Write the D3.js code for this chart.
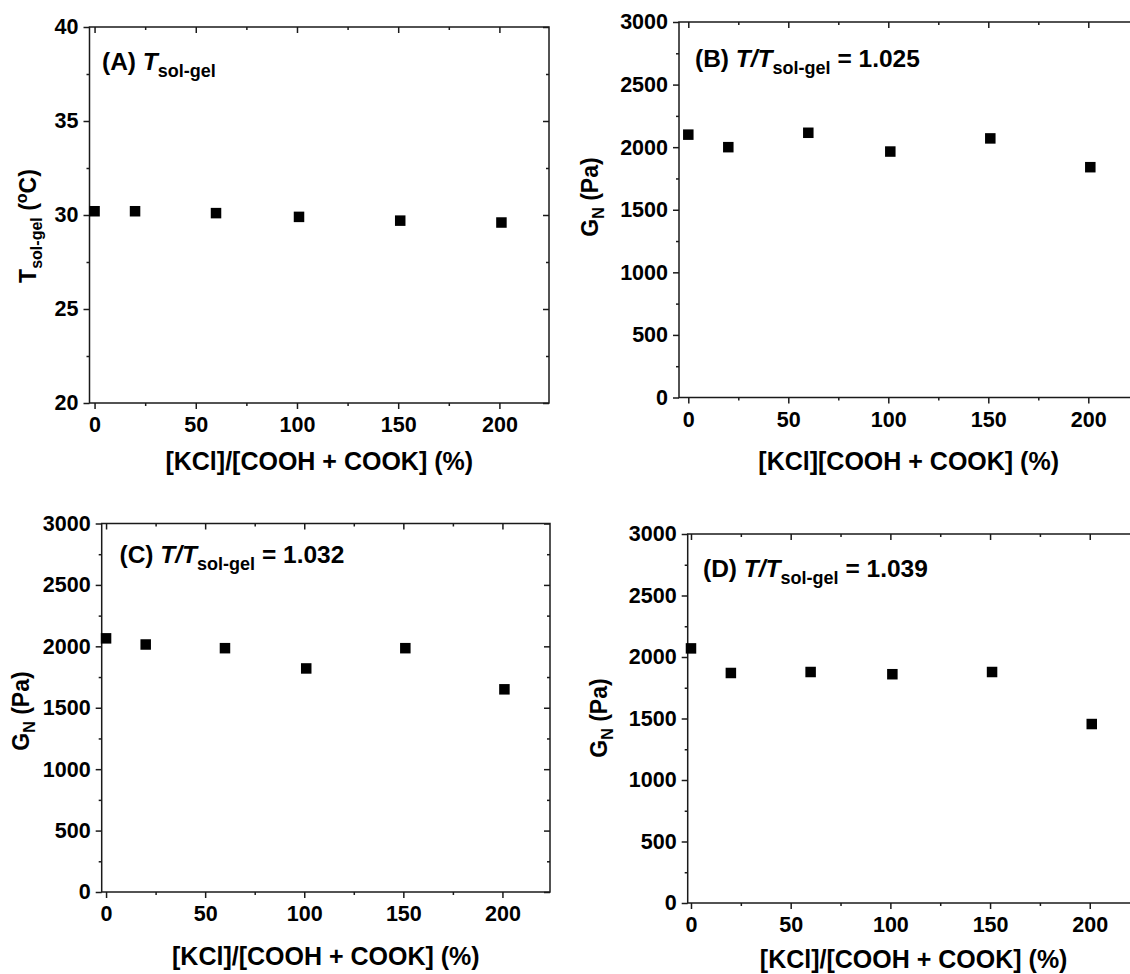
<!DOCTYPE html>
<html>
<head>
<meta charset="utf-8">
<script src="https://cdn.jsdelivr.net/npm/d3@7/dist/d3.min.js"></script>
<style>
  body { margin: 0; background: #fff; }
  svg { display: block; font-family: "Liberation Sans", Arial, sans-serif; font-weight: bold; }
  .tick text { font-size: 21.5px; font-weight: bold; fill: #000; }
  .tick line { stroke: #1a1a1a; stroke-width: 1.5; }
  .domain { display: none; }
</style>
</head>
<body>
<svg id="chart" width="1130" height="974"></svg>
<script>
// data
var kclRatio = [0, 20, 60, 101, 151, 201]
var tSolGel = [30.2, 30.2, 30.1, 29.9, 29.7, 29.6]
var gnB = [2100, 2000, 2115, 1965, 2070, 1840]
var gnC = [2065, 2015, 1985, 1820, 1985, 1650]
var gnD = [2070, 1870, 1878, 1860, 1878, 1455]

var xTicks = [0, 50, 100, 150, 200]
var xMinor = [25, 75, 125, 175]
var tempTicks = [20, 25, 30, 35, 40]
var tempMinor = [22.5, 27.5, 32.5, 37.5]
var gnTicks = [0, 500, 1000, 1500, 2000, 2500, 3000]
var gnMinor = [250, 750, 1250, 1750, 2250, 2750]

var panels = [
	{ box: {l: 89.5, t: 27, r: 549, b: 403}, xDomain: [-2.5, 224.5], yDomain: [20, 40],
	  values: tSolGel, yTicks: tempTicks, yMinor: tempMinor,
	  title: {x: 102, y: 70, letter: "(A) ", italic: "T", rest: ""},
	  xTitle: {text: "[KCl]/[COOH + COOK] (%)", y: 470},
	  yTitle: {x: 36, y: 226, main: "T", sub: "sol-gel", tail: " (", sup: "o", end: "C)"} },
	{ box: {l: 679, t: 22, r: 1138.3, b: 397.5}, xDomain: [-4.65, 225], yDomain: [0, 3000],
	  values: gnB, yTicks: gnTicks, yMinor: gnMinor,
	  title: {x: 695, y: 67, letter: "(B) ", italic: "T/T", rest: " = 1.025"},
	  xTitle: {text: "[KCl][COOH + COOK] (%)", y: 470},
	  yTitle: {x: 598, y: 197, main: "G", sub: "N", tail: " (Pa)"} },
	{ box: {l: 101.7, t: 523.5, r: 550, b: 892}, xDomain: [-2.2, 224], yDomain: [0, 3000],
	  values: gnC, yTicks: gnTicks, yMinor: gnMinor,
	  title: {x: 119.5, y: 563, letter: "(C) ", italic: "T/T", rest: " = 1.032"},
	  xTitle: {text: "[KCl]/[COOH + COOK] (%)", y: 965},
	  yTitle: {x: 29, y: 711, main: "G", sub: "N", tail: " (Pa)"} },
	{ box: {l: 687.7, t: 534, r: 1139.6, b: 903}, xDomain: [-1.65, 225], yDomain: [0, 3000],
	  values: gnD, yTicks: gnTicks, yMinor: gnMinor,
	  title: {x: 703, y: 577, letter: "(D) ", italic: "T/T", rest: " = 1.039"},
	  xTitle: {text: "[KCl]/[COOH + COOK] (%)", y: 968},
	  yTitle: {x: 607, y: 718, main: "G", sub: "N", tail: " (Pa)"} }
]

var svg = d3.select("#chart")
var lineColour = "#1a1a1a"
var plain = d3.format("d")

function draw_panel(p) {
	var b = p.box
	var x = d3.scaleLinear().domain(p.xDomain).range([b.l, b.r])
	var y = d3.scaleLinear().domain(p.yDomain).range([b.b, b.t])
	var g = svg.append("g")

	// bottom: major + minor outward, labels
	g.append("g").attr("transform", "translate(0," + b.b + ")")
		.call(d3.axisBottom(x).tickValues(xTicks).tickSize(6).tickPadding(8).tickFormat(plain).tickSizeOuter(0))
	g.append("g").attr("transform", "translate(0," + b.b + ")")
		.call(d3.axisBottom(x).tickValues(xMinor).tickSize(3).tickFormat("").tickSizeOuter(0))
	// top: inward
	g.append("g").attr("transform", "translate(0," + b.t + ")")
		.call(d3.axisTop(x).tickValues(xTicks).tickSize(-6).tickFormat("").tickSizeOuter(0))
	g.append("g").attr("transform", "translate(0," + b.t + ")")
		.call(d3.axisTop(x).tickValues(xMinor).tickSize(-3).tickFormat("").tickSizeOuter(0))
	// left: outward, labels
	g.append("g").attr("transform", "translate(" + b.l + ",0)")
		.call(d3.axisLeft(y).tickValues(p.yTicks).tickSize(6).tickPadding(5).tickFormat(plain).tickSizeOuter(0))
	g.append("g").attr("transform", "translate(" + b.l + ",0)")
		.call(d3.axisLeft(y).tickValues(p.yMinor).tickSize(3).tickFormat("").tickSizeOuter(0))
	// right: inward
	g.append("g").attr("transform", "translate(" + b.r + ",0)")
		.call(d3.axisRight(y).tickValues(p.yTicks).tickSize(-6).tickFormat("").tickSizeOuter(0))
	g.append("g").attr("transform", "translate(" + b.r + ",0)")
		.call(d3.axisRight(y).tickValues(p.yMinor).tickSize(-3).tickFormat("").tickSizeOuter(0))

	g.selectAll(".tick text").attr("font-family", "Liberation Sans, Arial, sans-serif")

	g.append("rect")
		.attr("x", b.l).attr("y", b.t)
		.attr("width", b.r - b.l).attr("height", b.b - b.t)
		.attr("fill", "none").attr("stroke", lineColour).attr("stroke-width", 1.5)

	// square markers
	var size = 10.5
	g.selectAll(".pt").data(d3.zip(kclRatio, p.values)).enter()
		.append("rect")
		.attr("class", "pt")
		.attr("x", function(d) {return x(d[0]) - size / 2})
		.attr("y", function(d) {return y(d[1]) - size / 2})
		.attr("width", size).attr("height", size)
		.attr("fill", "#000")

	// panel title
	var t = g.append("text").attr("x", p.title.x).attr("y", p.title.y)
		.attr("font-size", 24.5).attr("fill", "#000")
	t.append("tspan").text(p.title.letter)
	t.append("tspan").attr("font-style", "italic").text(p.title.italic)
	t.append("tspan").attr("font-size", 18).attr("dy", 7).text("sol-gel")
	if (p.title.rest) t.append("tspan").attr("dy", -7).text(p.title.rest)

	// x title, centred on the plot frame
	g.append("text")
		.attr("x", (b.l + b.r) / 2)
		.attr("y", p.xTitle.y)
		.attr("text-anchor", "middle")
		.attr("font-size", 25).attr("fill", "#000")
		.text(p.xTitle.text)

	// y title
	var yt = g.append("text")
		.attr("transform", "translate(" + p.yTitle.x + "," + p.yTitle.y + ") rotate(-90)")
		.attr("text-anchor", "middle")
		.attr("font-size", 23).attr("fill", "#000")
	yt.append("tspan").text(p.yTitle.main)
	yt.append("tspan").attr("font-size", 16).attr("dy", 6).text(p.yTitle.sub)
	yt.append("tspan").attr("dy", -6).text(p.yTitle.tail)
	if (p.yTitle.sup) {
		yt.append("tspan").attr("font-size", 16).attr("dy", -9).text(p.yTitle.sup)
		yt.append("tspan").attr("dy", 9).text(p.yTitle.end)
	}
}

panels.forEach(draw_panel)
</script>
</body>
</html>
